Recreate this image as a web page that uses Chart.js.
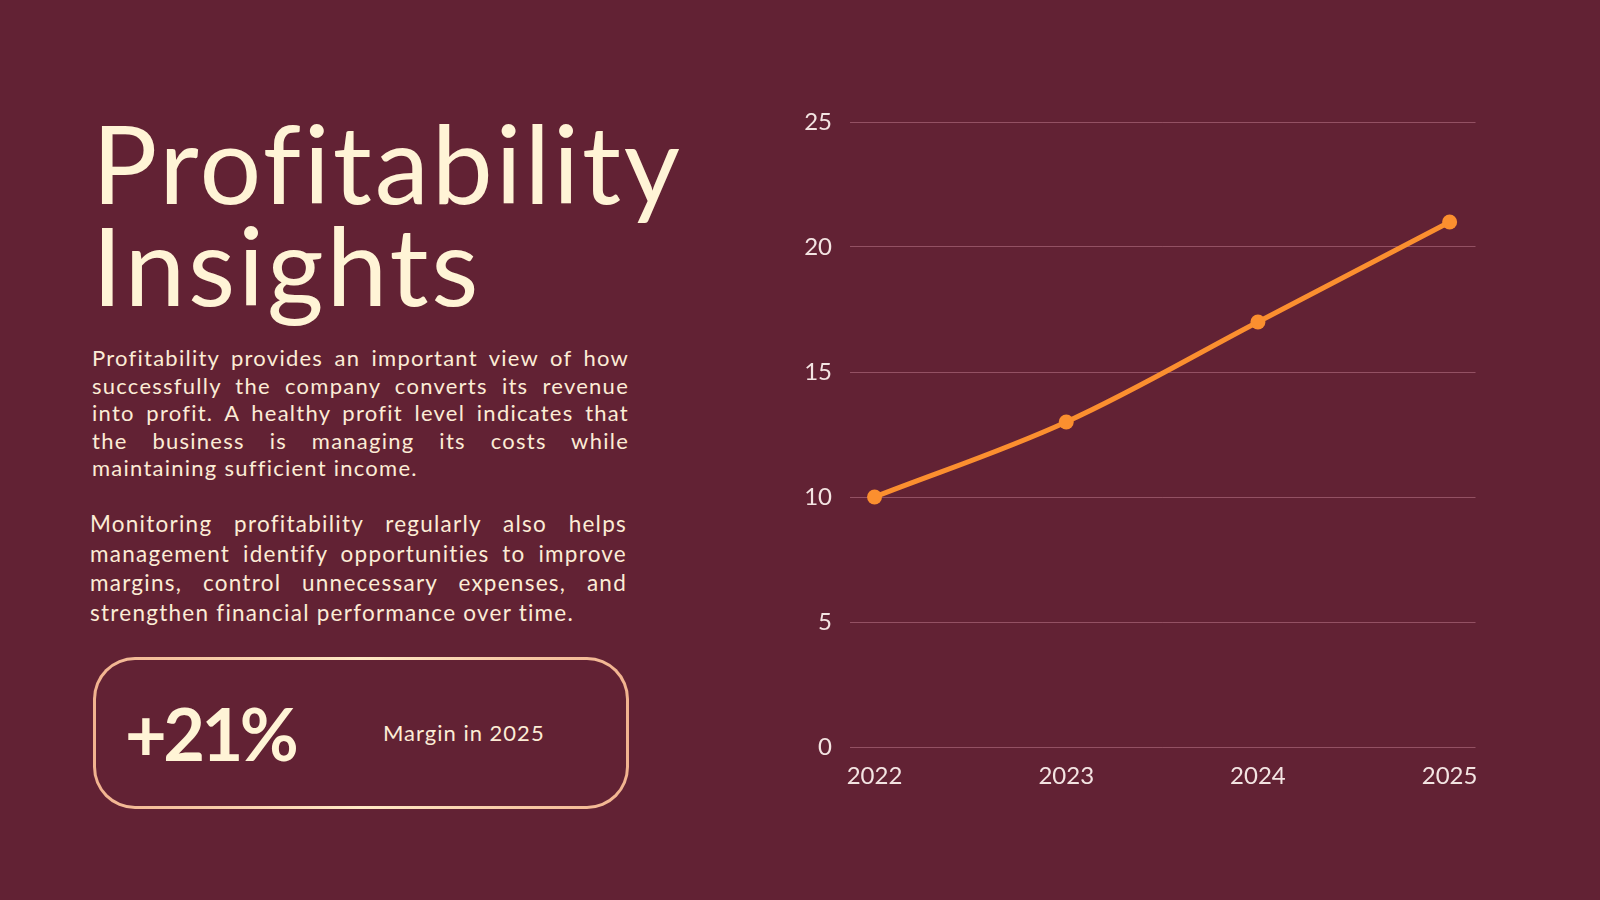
<!DOCTYPE html>
<html>
<head>
<meta charset="utf-8">
<script src="https://cdn.jsdelivr.net/npm/chart.js@4.4.1/dist/chart.umd.min.js"></script>
<style>
  html, body { margin: 0; padding: 0; }
  body {
    width: 1600px; height: 900px; overflow: hidden;
    background: #622234;
    font-family: "Lato", "Noto Sans", sans-serif;
    position: relative;
  }
  .title {
    position: absolute; left: 92px; top: 111px;
    font-size: 109px; line-height: 102px; color: #fff4d6;
    font-weight: 400; letter-spacing: 2.8px;
  }
  .para { position: absolute; color: #fcecd6; letter-spacing: 1.25px; }
  .para span { display: block; text-align: justify; text-align-last: justify; }
  .para span.last { text-align-last: left; }
  #p1 { left: 92px; top: 344px; width: 537px; font-size: 22px; line-height: 27.6px; }
  #p2 { left: 90px; top: 509px; width: 537px; font-size: 22.5px; line-height: 29.6px; }
  .kpi {
    position: absolute; left: 93px; top: 657px; width: 536px; height: 152px;
    box-sizing: border-box; border: 3.5px solid transparent; border-radius: 42px;
    background: linear-gradient(#622234, #622234) padding-box,
                linear-gradient(90deg, #f2b38f, #ffeac6 50%, #f2b38f) border-box;
  }
  .kpi .big {
    position: absolute; left: 29px; top: 0; height: 145px; display: flex; align-items: center;
    font-size: 72px; font-weight: 700; color: #fff4d6; letter-spacing: -3.5px;
  }
  .kpi .lbl {
    position: absolute; left: 287px; top: 0; height: 145px; display: flex; align-items: center;
    font-size: 22px; color: #fcecd6; letter-spacing: 1px;
  }
  #chartBox { position: absolute; left: 760px; top: 80px; width: 740px; height: 740px; }
</style>
</head>
<body>
<div class="title">Profitability<br>Insights</div>

<div class="para" id="p1">
  <span>Profitability provides an important view of how</span>
  <span>successfully the company converts its revenue</span>
  <span>into profit. A healthy profit level indicates that</span>
  <span>the business is managing its costs while</span>
  <span class="last">maintaining sufficient income.</span>
</div>

<div class="para" id="p2">
  <span>Monitoring profitability regularly also helps</span>
  <span>management identify opportunities to improve</span>
  <span>margins, control unnecessary expenses, and</span>
  <span class="last">strengthen financial performance over time.</span>
</div>

<div class="kpi">
  <div class="big">+21%</div>
  <div class="lbl">Margin in 2025</div>
</div>

<div id="chartBox"><canvas id="profitChart"></canvas></div>

<script>
  // chart data
  const years = [2022, 2023, 2024, 2025]
  const margin = [10, 13, 17, 21]
  const yTicks = [0, 5, 10, 15, 20, 25]

  const orange = "#fb8f2f"
  const tickColor = "#f3e4e2"

  let points = years.map((yr, i) => ({ x: yr, y: margin[i] }))

  let ctx = document.getElementById("profitChart").getContext("2d")
  new Chart(ctx, {
    type: "line",
    data: {
      datasets: [{
        label: "Margin",
        data: points,
        borderColor: orange,
        backgroundColor: orange,
        borderWidth: 5,
        tension: 0.35,
        pointRadius: 7.5,
        pointBorderWidth: 0,
        pointBackgroundColor: orange,
        fill: false
      }]
    },
    options: {
      responsive: true,
      maintainAspectRatio: false,
      animation: false,
      layout: { padding: { top: 42, right: 24.5, bottom: 23, left: 0 } },
      plugins: { legend: { display: false }, tooltip: { enabled: false } },
      scales: {
        x: {
          type: "linear",
          min: 2021.872,
          max: 2025.135,
          afterFit: s => { s.height = 50 },
          grid: { display: false },
          border: { display: false },
          ticks: {
            stepSize: 1,
            includeBounds: false,
            padding: 7,
            color: tickColor,
            font: { family: "Lato", size: 24, weight: 400 },
            callback: v => String(v)
          }
        },
        y: {
          min: yTicks[0],
          max: yTicks[yTicks.length - 1],
          afterFit: s => { s.width = 90 },
          border: { display: false },
          grid: { color: "rgba(240, 170, 190, 0.35)", lineWidth: 1, drawTicks: false },
          ticks: {
            stepSize: yTicks[1] - yTicks[0],
            padding: 18,
            color: tickColor,
            font: { family: "Lato", size: 24, weight: 400 }
          }
        }
      }
    }
  })
</script>
</body>
</html>
